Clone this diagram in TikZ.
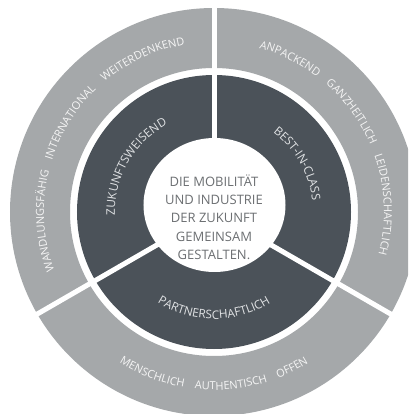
\documentclass[tikz,border=0pt]{standalone}
\usepackage{fontspec}
\setmainfont{Open Sans}
\usetikzlibrary{decorations.text}
\definecolor{darkring}{RGB}{75,82,89}
\definecolor{lightring}{RGB}{165,168,170}
\definecolor{centertxt}{RGB}{108,111,114}
\definecolor{darktxt}{RGB}{225,227,229}
\definecolor{lighttxt}{RGB}{245,245,245}
\newcommand\fdark{\fontsize{11.8}{14}\selectfont}
\newcommand\flight{\fontsize{11}{13}\selectfont}
\newcommand\wsp{\hspace{11pt}}
\begin{document}
\begin{tikzpicture}[x=1pt,y=1pt,
  gapline/.style={draw=white, line width=5pt},
  darktext/.style={decorate, decoration={text along path, text align=center, text color=darktxt, text={#1}}},
  lighttext/.style={decorate, decoration={text along path, text align=center, text color=lighttxt, text={#1}}},
  motto/.style={align=center, text=centertxt, inner sep=0pt, font=\fontsize{13}{18.3}\selectfont}]
\useasboundingbox (-214,-202) rectangle (194,212);
\clip (-214,-202) rectangle (194,212);
\fill[lightring, even odd rule] (0,0) circle[radius=204] (0,0) circle[radius=144];
\fill[darkring] (0,0) circle[radius=137];
\foreach \a in {90,210,330} \draw[gapline] (0,0) -- (\a:230);
\fill[white] (0.5,7) ellipse[x radius=71, y radius=67];
\node[motto] (motto) at (0,-5) {DIE MOBILITÄT\\UND INDUSTRIE\\DER ZUKUNFT\\GEMEINSAM\\GESTALTEN.};
\path[darktext={|\fdark|ZUKUNFTSWEISEND}] (210:99) arc[start angle=210, end angle=90, radius=99];
\path[darktext={|\fdark|BEST-IN-CLASS}] (90:99) arc[start angle=90, end angle=-30, radius=99];
\path[darktext={|\fdark|PARTNERSCHAFTLICH}] (210:107) arc[start angle=210, end angle=330, radius=107];
\path[lighttext={|\flight|WANDLUNGSFÄHIG{\wsp}INTERNATIONAL{\wsp}WEITERDENKEND}] (210:170) arc[start angle=210, end angle=90, radius=170];
\path[lighttext={|\flight|ANPACKEND{\wsp}GANZHEITLICH{\wsp}LEIDENSCHAFTLICH}] (90:170) arc[start angle=90, end angle=-30, radius=170];
\path[lighttext={|\flight|MENSCHLICH{\wsp}AUTHENTISCH{\wsp}OFFEN}] (210:178) arc[start angle=210, end angle=330, radius=178];
\end{tikzpicture}
\end{document}
